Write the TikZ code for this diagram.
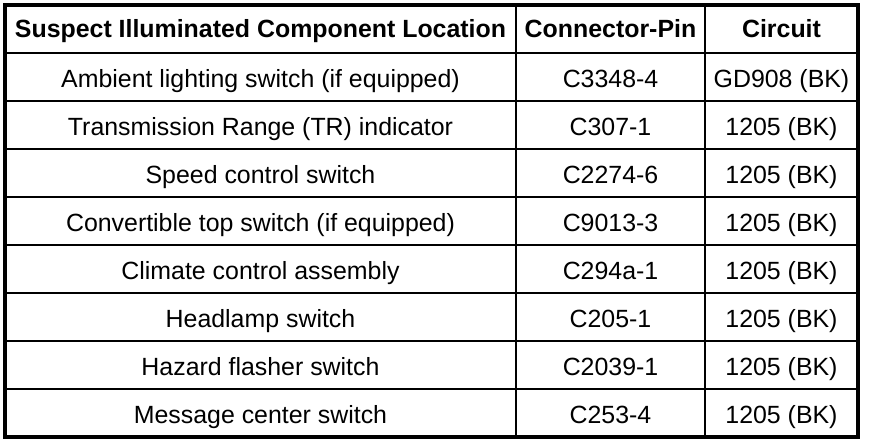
\documentclass[tikz,border=0pt]{standalone}
\usepackage{fontspec}
\setmainfont{Liberation Sans}
\usepackage{tikz}
\usetikzlibrary{positioning}
\tikzstyle{cell} = [inner sep=0pt, text height=17pt, text depth=0pt,
    font=\fontsize{24.9}{28}\selectfont]
\tikzstyle{head} = [cell, font=\fontsize{24.9}{28}\selectfont\bfseries]
\tikzstyle{rule} = [draw, line width=2pt]
\tikzstyle{frame} = [draw, line width=4pt]

\begin{document}
\begin{tikzpicture}[x=1pt, y=1pt, node distance = 48pt]
  \useasboundingbox (0,0) rectangle (880,-444);
  % Place nodes
  \node [head] (hloc) at (260.5,-29) {Suspect Illuminated Component Location};
  \node [head] (hpin) at (610.5,-29) {Connector-Pin};
  \node [head] (hcir) at (781.5,-29) {Circuit};

  \node [cell, below of=hloc, yshift=-1.5pt] (loc1) {Ambient lighting switch (if equipped)};
  \node [cell, below of=loc1] (loc2) {Transmission Range (TR) indicator};
  \node [cell, below of=loc2] (loc3) {Speed control switch};
  \node [cell, below of=loc3] (loc4) {Convertible top switch (if equipped)};
  \node [cell, below of=loc4] (loc5) {Climate control assembly};
  \node [cell, below of=loc5] (loc6) {Headlamp switch};
  \node [cell, below of=loc6] (loc7) {Hazard flasher switch};
  \node [cell, below of=loc7] (loc8) {Message center switch};

  \node [cell, below of=hpin, yshift=-1.5pt] (pin1) {C3348-4};
  \node [cell, below of=pin1] (pin2) {C307-1};
  \node [cell, below of=pin2] (pin3) {C2274-6};
  \node [cell, below of=pin3] (pin4) {C9013-3};
  \node [cell, below of=pin4] (pin5) {C294a-1};
  \node [cell, below of=pin5] (pin6) {C205-1};
  \node [cell, below of=pin6] (pin7) {C2039-1};
  \node [cell, below of=pin7] (pin8) {C253-4};

  \node [cell, below of=hcir, yshift=-1.5pt] (cir1) {GD908 (BK)};
  \node [cell, below of=cir1] (cir2) {1205 (BK)};
  \node [cell, below of=cir2] (cir3) {1205 (BK)};
  \node [cell, below of=cir3] (cir4) {1205 (BK)};
  \node [cell, below of=cir4] (cir5) {1205 (BK)};
  \node [cell, below of=cir5] (cir6) {1205 (BK)};
  \node [cell, below of=cir6] (cir7) {1205 (BK)};
  \node [cell, below of=cir7] (cir8) {1205 (BK)};

  % Draw rules
  \path [rule] (516,-5) -- (516,-437);
  \path [rule] (705,-5) -- (705,-437);
  \path [rule] (5,-53) -- (858,-53);
  \path [rule] (5,-101) -- (858,-101);
  \path [rule] (5,-149) -- (858,-149);
  \path [rule] (5,-197) -- (858,-197);
  \path [rule] (5,-245) -- (858,-245);
  \path [rule] (5,-293) -- (858,-293);
  \path [rule] (5,-341) -- (858,-341);
  \path [rule] (5,-389) -- (858,-389);
  % Frame
  \path [frame] (5,-5) rectangle (858,-437);
\end{tikzpicture}
\end{document}
